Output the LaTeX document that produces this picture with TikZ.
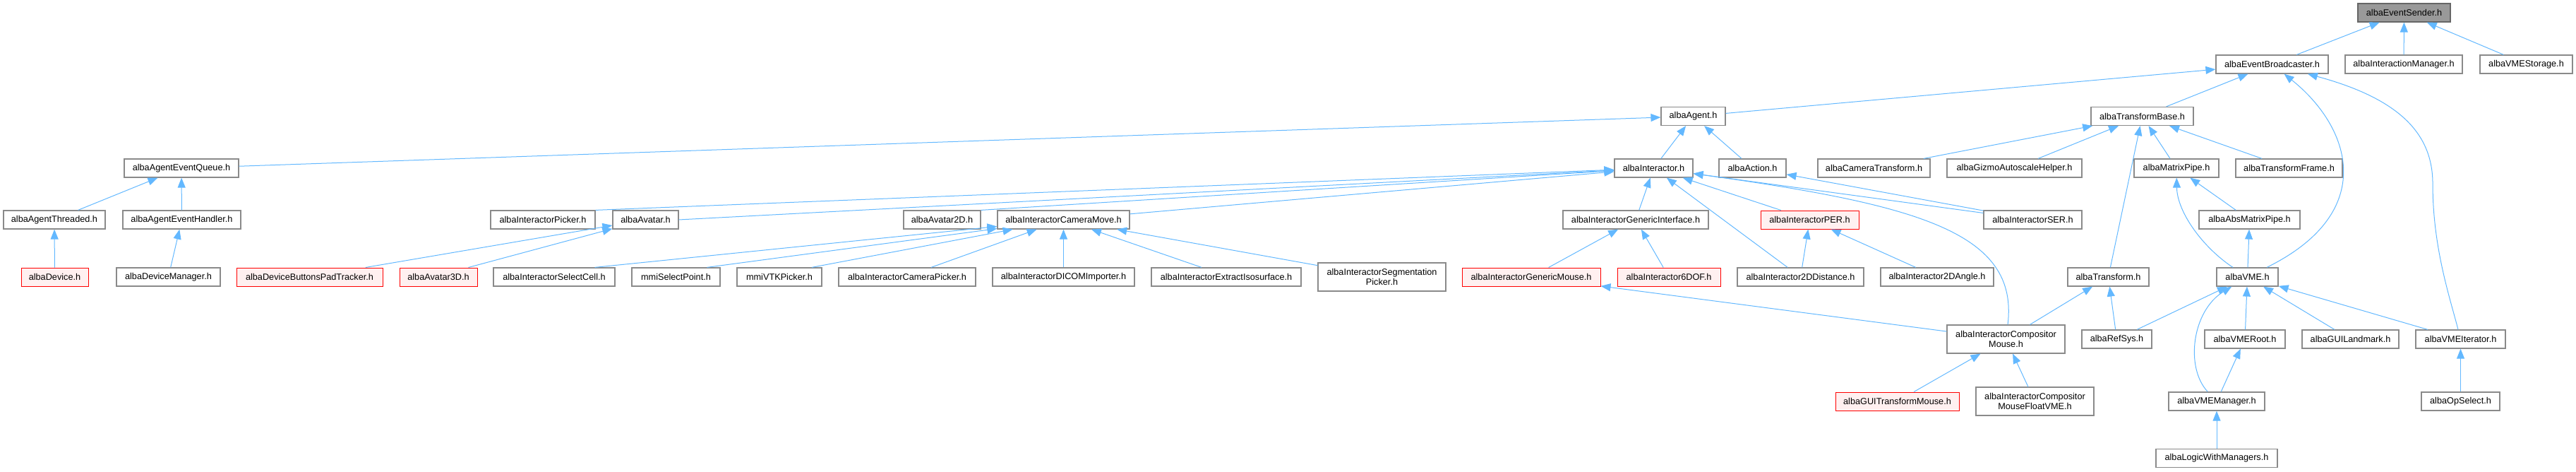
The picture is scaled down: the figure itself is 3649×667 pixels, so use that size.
\documentclass[tikz,border=0pt]{standalone}
\usepackage{fontspec}
\setmainfont{Liberation Sans}
\usetikzlibrary{arrows.meta}
\definecolor{edgeblue}{HTML}{63B8FF}
\definecolor{boxgray}{HTML}{8A8A8A}
\definecolor{rootfill}{HTML}{999999}
\definecolor{rootline}{HTML}{666666}
\definecolor{cutfill}{HTML}{FFF0F0}

\begin{document}
\begin{tikzpicture}[x=1pt, y=-1pt,
    file/.style={draw=boxgray, line width=1.2pt, fill=white, inner sep=0pt,
      minimum height=26pt, align=center, font=\fontsize{12.7}{14.5}\selectfont},
    cut/.style={file, draw=red, line width=1pt, fill=cutfill},
    root/.style={file, draw=rootline, fill=rootfill},
    tall/.style={minimum height=40pt},
    dep/.style={draw=edgeblue, line width=1pt, {Triangle[length=14pt,width=11pt]}-}]
    \useasboundingbox (0,0) rectangle (3649,667);

    % row 0 and 1
    \node[root, minimum width=131] (sender) at (3405.5,18) {albaEventSender.h};
    \node[file, minimum width=159] (broadcaster) at (3218.5,91) {albaEventBroadcaster.h};
    \node[file, minimum width=166] (interman) at (3405,91) {albaInteractionManager.h};
    \node[file, minimum width=131] (storage) at (3578.5,91) {albaVMEStorage.h};

    % row 2
    \node[file, minimum width=91] (agent) at (2398.5,164.5) {albaAgent.h};
    \node[file, minimum width=145] (tbase) at (3034.5,164.5) {albaTransformBase.h};

    % row 3
    \node[file, minimum width=162] (queue) at (257,238) {albaAgentEventQueue.h};
    \node[file, minimum width=111] (interactor) at (2342.5,238) {albaInteractor.h};
    \node[file, minimum width=95] (action) at (2482.5,238) {albaAction.h};
    \node[file, minimum width=159] (camtrans) at (2654.5,238) {albaCameraTransform.h};
    \node[file, minimum width=191] (gizmo) at (2853.5,238) {albaGizmoAutoscaleHelper.h};
    \node[file, minimum width=120] (mpipe) at (3083,238) {albaMatrixPipe.h};
    \node[file, minimum width=151] (tframe) at (3242.5,238) {albaTransformFrame.h};

    % row 4
    \node[file, minimum width=144] (threaded) at (77,311) {albaAgentThreaded.h};
    \node[file, minimum width=167] (handler) at (257.5,311) {albaAgentEventHandler.h};
    \node[file, minimum width=148] (picker) at (769,311) {albaInteractorPicker.h};
    \node[file, minimum width=93] (avatar) at (914.5,311) {albaAvatar.h};
    \node[file, minimum width=109] (avatar2d) at (1334.5,311) {albaAvatar2D.h};
    \node[file, minimum width=187] (cammove) at (1506.5,311) {albaInteractorCameraMove.h};
    \node[file, minimum width=206] (geninter) at (2317,311) {albaInteractorGenericInterface.h};
    \node[cut, minimum width=139] (per) at (2563.5,311) {albaInteractorPER.h};
    \node[file, minimum width=139] (ser) at (2879.5,311) {albaInteractorSER.h};
    \node[file, minimum width=143] (absmpipe) at (3186.5,311) {albaAbsMatrixPipe.h};

    % row 5
    \node[cut, minimum width=95] (device) at (77.5,392) {albaDevice.h};
    \node[file, minimum width=147] (devman) at (238.5,392) {albaDeviceManager.h};
    \node[cut, minimum width=207] (padtrack) at (438.5,392) {albaDeviceButtonsPadTracker.h};
    \node[cut, minimum width=110] (avatar3d) at (621,392) {albaAvatar3D.h};
    \node[file, minimum width=172] (selcell) at (785,392) {albaInteractorSelectCell.h};
    \node[file, minimum width=125] (selpoint) at (957.5,392) {mmiSelectPoint.h};
    \node[file, minimum width=120] (vtkpick) at (1104,392) {mmiVTKPicker.h};
    \node[file, minimum width=194] (campick) at (1285,392) {albaInteractorCameraPicker.h};
    \node[file, minimum width=201] (dicom) at (1506.5,392) {albaInteractorDICOMImporter.h};
    \node[file, minimum width=212] (iso) at (1737,392) {albaInteractorExtractIsosurface.h};
    \node[file, tall, minimum width=181] (segpick) at (1957.5,392) {albaInteractorSegmentation\\Picker.h};
    \node[cut, minimum width=196] (genmouse) at (2169,392) {albaInteractorGenericMouse.h};
    \node[cut, minimum width=146] (sixdof) at (2364,392) {albaInteractor6DOF.h};
    \node[file, minimum width=179] (dist) at (2550.5,392) {albaInteractor2DDistance.h};
    \node[file, minimum width=160] (angle) at (2744,392) {albaInteractor2DAngle.h};
    \node[file, minimum width=115] (transform) at (2986.5,392) {albaTransform.h};
    \node[file, minimum width=87] (vme) at (3183.5,392) {albaVME.h};

    % row 6
    \node[file, tall, minimum width=167] (compmouse) at (2841.5,480) {albaInteractorCompositor\\Mouse.h};
    \node[file, minimum width=99] (refsys) at (2998.5,480) {albaRefSys.h};
    \node[file, minimum width=114] (vmeroot) at (3180,480) {albaVMERoot.h};
    \node[file, minimum width=137] (landmark) at (3329.5,480) {albaGUILandmark.h};
    \node[file, minimum width=127] (vmeiter) at (3485.5,480) {albaVMEIterator.h};

    % row 7 and 8
    \node[cut, minimum width=175] (guitrans) at (2687.5,568) {albaGUITransformMouse.h};
    \node[file, tall, minimum width=167] (floatvme) at (2882.5,568) {albaInteractorCompositor\\MouseFloatVME.h};
    \node[file, minimum width=136] (vmeman) at (3140,568) {albaVMEManager.h};
    \node[file, minimum width=111] (opsel) at (3485.5,568) {albaOpSelect.h};
    \node[file, minimum width=172] (logic) at (3140,648.5) {albaLogicWithManagers.h};

    % includes, arrow at the included file
    \draw[dep] (sender) -- (broadcaster);
    \draw[dep] (sender) -- (interman);
    \draw[dep] (sender) -- (storage);
    \draw[dep] (broadcaster) -- (agent);
    \draw[dep] (broadcaster) -- (tbase);
    \draw[dep] (broadcaster) .. controls (3330,180) and (3370,300) .. (vme);
    \draw[dep] (broadcaster) .. controls (3400,140) and (3446,190) .. (3446,260)
        .. controls (3446,350) and (3470,420) .. (vmeiter);
    \draw[dep] (agent) -- (queue);
    \draw[dep] (agent) -- (interactor);
    \draw[dep] (agent) -- (action);
    \draw[dep] (queue) -- (threaded);
    \draw[dep] (queue) -- (handler);
    \draw[dep] (threaded) -- (device);
    \draw[dep] (handler) -- (devman);
    \draw[dep] (interactor) -- (picker.north east);
    \draw[dep] (interactor) -- (avatar.east);
    \draw[dep] (interactor) -- (avatar2d.north east);
    \draw[dep] (interactor) -- (cammove);
    \draw[dep] (interactor) -- (geninter);
    \draw[dep] (interactor) -- (per);
    \draw[dep] (interactor) -- (ser);
    \draw[dep] (interactor) -- (dist);
    \draw[dep] (interactor) .. controls (2720,290) and (2860,330) .. (compmouse);
    \draw[dep] (action) -- (ser);
    \draw[dep] (avatar) -- (padtrack);
    \draw[dep] (avatar) -- ([xshift=-13]avatar3d.north east);
    \draw[dep] (cammove) -- ([xshift=-29]selcell.north east);
    \draw[dep] (cammove) -- ([xshift=44]selpoint.north);
    \draw[dep] (cammove) -- ([xshift=46]vtkpick.north);
    \draw[dep] (cammove) -- ([xshift=34]campick.north);
    \draw[dep] (cammove) -- (dicom);
    \draw[dep] (cammove) -- ([xshift=-35]iso.north);
    \draw[dep] (cammove) -- (segpick);
    \draw[dep] (geninter) -- (genmouse);
    \draw[dep] (geninter) -- (sixdof);
    \draw[dep] (per) -- (dist);
    \draw[dep] (per) -- (angle);
    \draw[dep] (genmouse) -- (compmouse);
    \draw[dep] (transform) -- (compmouse);
    \draw[dep] (compmouse) -- (guitrans);
    \draw[dep] (compmouse) -- (floatvme);
    \draw[dep] (transform) -- (refsys);
    \draw[dep] (vme) -- (refsys);
    \draw[dep] (tbase) -- (transform);
    \draw[dep] (tbase) -- (camtrans);
    \draw[dep] (tbase) -- (gizmo);
    \draw[dep] (tbase) -- (mpipe);
    \draw[dep] (tbase) -- (tframe);
    \draw[dep] (mpipe) -- (absmpipe);
    \draw[dep] (mpipe) .. controls (3084,300) and (3120,350) .. (vme);
    \draw[dep] (absmpipe) -- (vme);
    \draw[dep] (vme) -- (vmeroot);
    \draw[dep] (vme) .. controls (3105,440) and (3095,520) .. (vmeman);
    \draw[dep] (vme) -- (landmark);
    \draw[dep] (vme) -- (vmeiter);
    \draw[dep] (vmeroot) -- (vmeman);
    \draw[dep] (vmeman) -- (logic);
    \draw[dep] (vmeiter) -- (opsel);
\end{tikzpicture}
\end{document}
